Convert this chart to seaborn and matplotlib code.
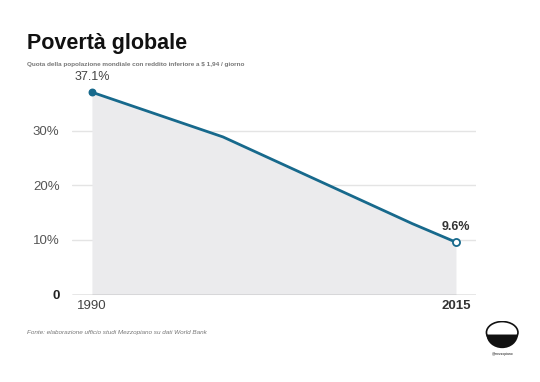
import pandas as pd
import matplotlib.pyplot as plt
import seaborn as sns
from matplotlib.patches import Wedge, Ellipse

# Dati
anni = [1990, 1999, 2012, 2015]
quota = [37.1, 28.9, 13.0, 9.6]
tick_y = [0, 10, 20, 30]
tick_y_labels = ['0', '10%', '20%', '30%']
tick_x = [1990, 2015]

df = pd.DataFrame({'Anno': anni, 'Quota': quota})

blu = '#17698c'
sns.set_style('white')
plt.rcParams['font.family'] = ['Liberation Sans', 'DejaVu Sans']

fig = plt.figure(figsize=(5.4, 3.82), dpi=100)
ax = fig.add_axes([0.1333, 0.229, 0.748, 0.571])

ax.fill_between(df['Anno'], df['Quota'], 0, color='#ebebed', lw=0, zorder=1)
sns.lineplot(data=df, x='Anno', y='Quota', color=blu, linewidth=2, ax=ax, zorder=3)

# punti iniziale e finale
ax.scatter([anni[0]], [quota[0]], s=22, color=blu, zorder=4)
ax.scatter([anni[-1]], [quota[-1]], s=26, facecolor='white', edgecolor=blu, linewidth=1.3, zorder=4)

ax.text(anni[0], quota[0] + 1.6, '37.1%', ha='center', va='bottom', fontsize=9, color='#444444')
ax.text(anni[-1], quota[-1] + 1.6, '9.6%', ha='center', va='bottom', fontsize=9,
        color='#333333', fontweight='bold')

ax.set_xlim(1988.63, 2016.37)
ax.set_ylim(0, 40)

for y in tick_y[1:]:
    ax.axhline(y, color='#e4e4e4', lw=1, zorder=0)
ax.axhline(0, color='#888888', lw=1, zorder=5)

ax.set_yticks(tick_y)
ax.set_yticklabels(tick_y_labels)
ax.set_xticks(tick_x)
ax.set_xticklabels([str(a) for a in tick_x])
ax.tick_params(axis='y', length=0, pad=9, labelsize=9.5, labelcolor='#555555')
ax.tick_params(axis='x', length=0, pad=4, labelsize=9.5, labelcolor='#444444')
ax.get_yticklabels()[0].set_fontweight('bold')
ax.get_yticklabels()[0].set_color('#222222')
ax.get_xticklabels()[-1].set_fontweight('bold')
ax.get_xticklabels()[-1].set_color('#333333')
ax.set_xlabel('')
ax.set_ylabel('')
for s in ax.spines.values():
    s.set_visible(False)
ax.set_facecolor('none')

fig.text(0.05, 0.872, 'Povertà globale', fontsize=15.5, fontweight='bold', color='#111111')
fig.text(0.05, 0.827, 'Quota della popolazione mondiale con reddito inferiore a $ 1,94 / giorno',
         fontsize=4.6, fontweight='bold', color='#777777')
fig.text(0.05, 0.125, 'Fonte: elaborazione ufficio studi Mezzopiano su dati World Bank',
         fontsize=4.6, style='italic', color='#777777')

# logo
lax = fig.add_axes([0.895, 0.06, 0.07, 0.1])
lax.set_xlim(-1.2, 1.2)
lax.set_ylim(-1.6, 1.2)
lax.add_patch(Wedge((0, 0.2), 1, 180, 360, facecolor='#111111', edgecolor='none'))
lax.add_patch(Ellipse((0, 0.35), 2.0, 1.6, facecolor='none', edgecolor='#111111', lw=1.2))
lax.text(0, -1.3, '@mezzopiano', fontsize=2.4, ha='center', color='#111111')
lax.axis('off')

plt.savefig('out.png', dpi=100)
plt.close()
